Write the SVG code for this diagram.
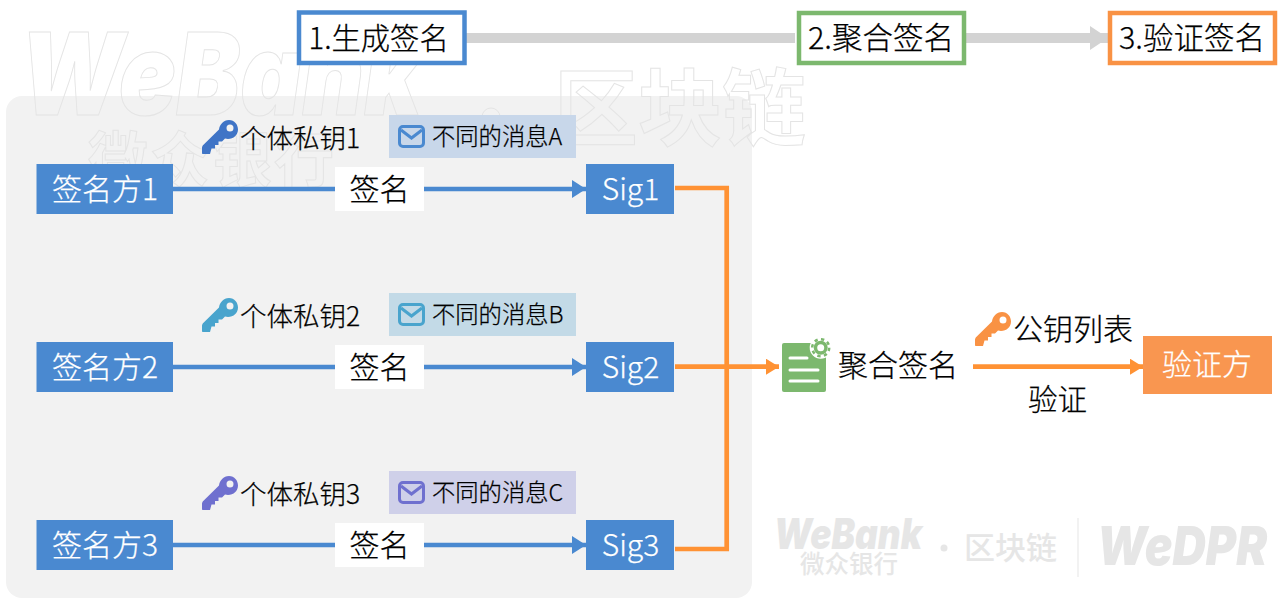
<svg xmlns="http://www.w3.org/2000/svg" width="1280" height="607" viewBox="0 0 1280 607">
<style>
text{font-family:"Noto Sans CJK SC","Noto Sans",sans-serif;fill:#000;font-weight:300;stroke:#000;stroke-width:.25px}
.t30{font-size:30px}
.t27{font-size:26.500px}
.t24{font-size:23.300px}
.s{font-size:30.500px}
.m{text-anchor:middle}
.blue{fill:#4a89d0}
text.lab{fill:#fff;stroke:#fff}
text.wm{fill:none;stroke:#e4e4e4;stroke-width:1px;font-weight:700}
circle.wm{fill:none;stroke:#e4e4e4;stroke-width:1px}
text.lg{fill:#e6e6e6;stroke:none;font-weight:500}
text.wmb{font-family:Inter,"Liberation Sans",sans-serif;font-weight:900;font-style:italic}
.cb{stroke:#4a89d0;stroke-width:4.500;fill:none}
.co{stroke:#ff9234;stroke-width:4.700;fill:none}
</style>
<defs>
<marker id="ab" markerUnits="userSpaceOnUse" markerWidth="14" markerHeight="18" refX="14" refY="9" orient="auto"><path d="M0 0L14 9L0 18Z" fill="#4a89d0"/></marker>
<marker id="ao" markerUnits="userSpaceOnUse" markerWidth="13" markerHeight="16" refX="13" refY="8" orient="auto"><path d="M0 0L13 8L0 16Z" fill="#ff9234"/></marker>
<marker id="ag" markerUnits="userSpaceOnUse" markerWidth="18" markerHeight="24" refX="18" refY="12" orient="auto"><path d="M0 0L18 12L0 24Z" fill="#d3d3d3"/></marker>
<path id="key" d="M0 26C0 24.500 0.800 23.500 1.500 22.800L17 7.500C17.500 2.800 21.500 -2 27 -2C32.500 -2 36 2.500 36 7.500C36 13 31.500 17 26 17C25 17 24 16.800 23 16.500L20 19.500L16.500 19.500L16.500 23L13 23L13 26.500L9.500 26.500L8 32L1 32C0.300 32 0 31.500 0 31ZM28 2.500A3.500 3.500 0 1 0 28 9.500A3.500 3.500 0 1 0 28 2.500Z" fill-rule="evenodd"/>
<g id="mail"><rect x="1.500" y="1.500" width="24" height="20" rx="3.500" fill="none" stroke-width="3"/><path d="M3 5L13.500 13L24 5" fill="none" stroke-width="3"/></g>
</defs>
<rect x="0" y="0" width="1280" height="607" fill="#fff"/>
<rect x="6" y="96" width="746" height="502" rx="16" fill="#f2f2f2"/>
<g id="watermark">
<text class="wm wmb" x="20" y="115" font-size="114" textLength="402" lengthAdjust="spacingAndGlyphs">WeBank</text>
<text class="wm" x="88" y="182" font-size="60" letter-spacing="2">微众银行</text>
<circle class="wm" cx="491" cy="117" r="9"/>
<text class="wm" x="554" y="139" font-size="84">区块链</text>
</g>
<g id="logo">
<text class="lg wmb" x="774" y="549" font-size="42" textLength="148" lengthAdjust="spacingAndGlyphs">WeBank</text>
<text class="lg" x="800" y="573" font-size="24.500">微众银行</text>
<circle cx="944" cy="548" r="3.500" fill="#e6e6e6"/>
<text class="lg" x="964" y="559" font-size="31">区块链</text>
<rect x="1077.500" y="518" width="1" height="59" fill="#e6e6e6"/>
<text class="lg wmb" x="1097" y="565" font-size="54" textLength="170" lengthAdjust="spacingAndGlyphs">WeDPR</text>
</g>
<g id="connectors">
<path d="M466 38H795" stroke="#d3d3d3" stroke-width="10" fill="none"/>
<path d="M966 38H1108" stroke="#d3d3d3" stroke-width="10" fill="none" marker-end="url(#ag)"/>
<path class="cb" d="M173 189H586" marker-end="url(#ab)"/>
<path class="cb" d="M173 367H586" marker-end="url(#ab)"/>
<path class="cb" d="M173 545H586" marker-end="url(#ab)"/>
<path class="co" d="M675 188H726.700V549H675"/>
<path class="co" d="M675 366.700H779" marker-end="url(#ao)"/>
<path class="co" d="M973 366.700H1143" marker-end="url(#ao)"/>
</g>
<g id="step1"><rect x="299" y="12.500" width="165.500" height="50.500" fill="#fff" stroke="#4a89d0" stroke-width="4.500"/><text x="308.500" y="49" style="font-size:29.300px">1.生成签名</text></g>
<g id="step2"><rect x="799" y="13" width="165" height="50" fill="#fff" stroke="#7cb86e" stroke-width="4.500"/><text class="s" x="808" y="49">2.聚合签名</text></g>
<g id="step3"><rect x="1110" y="13" width="165" height="50" fill="#fff" stroke="#f99244" stroke-width="4.500"/><text class="s" x="1119" y="49">3.验证签名</text></g>
<g id="signer1"><rect x="36.500" y="164" width="136.500" height="50" class="blue"/><text class="t30 lab m" x="105" y="200">签名方1</text></g>
<g id="signer2"><rect x="36.500" y="342" width="136.500" height="50" class="blue"/><text class="t30 lab m" x="105" y="378">签名方2</text></g>
<g id="signer3"><rect x="36.500" y="520" width="136.500" height="50" class="blue"/><text class="t30 lab m" x="105" y="556">签名方3</text></g>
<g id="sign1"><rect x="335" y="167" width="89" height="44" fill="#fff"/><text class="t30 m" x="379.500" y="200">签名</text></g>
<g id="sign2"><rect x="335" y="345" width="89" height="44" fill="#fff"/><text class="t30 m" x="379.500" y="378">签名</text></g>
<g id="sign3"><rect x="335" y="523" width="89" height="44" fill="#fff"/><text class="t30 m" x="379.500" y="556">签名</text></g>
<g id="sig1"><rect x="586" y="164" width="88" height="50" class="blue"/><text class="t30 lab m" x="630.500" y="200">Sig1</text></g>
<g id="sig2"><rect x="586" y="342" width="88" height="50" class="blue"/><text class="t30 lab m" x="630.500" y="378">Sig2</text></g>
<g id="sig3"><rect x="586" y="520" width="88" height="50" class="blue"/><text class="t30 lab m" x="630.500" y="556">Sig3</text></g>
<g id="key1"><use href="#key" x="202" y="122" fill="#3f74c6"/><text class="t27" x="240" y="148">个体私钥1</text></g>
<g id="key2"><use href="#key" x="202" y="300" fill="#49a4cd"/><text class="t27" x="240" y="326">个体私钥2</text></g>
<g id="key3"><use href="#key" x="202" y="478" fill="#6f70cf"/><text class="t27" x="240" y="504">个体私钥3</text></g>
<g id="msgA"><rect x="389" y="115" width="187" height="43" fill="#c8d7ea"/><use href="#mail" x="398" y="125" stroke="#4a89d0"/><text class="t24" x="432" y="145">不同的消息A</text></g>
<g id="msgB"><rect x="389" y="293" width="187" height="43" fill="#c3dae7"/><use href="#mail" x="398" y="303" stroke="#49a4cd"/><text class="t24" x="432" y="323">不同的消息B</text></g>
<g id="msgC"><rect x="389" y="471" width="187" height="43" fill="#cfd0e9"/><use href="#mail" x="398" y="481" stroke="#6f70cf"/><text class="t24" x="432" y="501">不同的消息C</text></g>
<g id="aggregate">
<rect x="782" y="343" width="44" height="49" rx="2" fill="#7cb86e"/>
<path d="M790 358H807M790 370H818M790 381H818" stroke="#fff" stroke-width="3" stroke-linecap="round" fill="none"/>
<circle cx="820.700" cy="347.700" r="11" fill="#fff"/>
<circle cx="820.700" cy="347.700" r="7" fill="#7cb86e"/>
<circle cx="820.700" cy="347.700" r="8.500" fill="none" stroke="#7cb86e" stroke-width="2.500" stroke-dasharray="3.340 3.340"/>
<circle cx="820.700" cy="347.700" r="3.500" fill="#fff"/>
<text class="t30" x="838" y="376">聚合签名</text>
</g>
<g id="pubkey"><use href="#key" x="975" y="314" fill="#f99244"/><text class="t30" x="1013" y="340">公钥列表</text></g>
<text class="t30" x="1028" y="410" id="verify" style="font-size:29.500px">验证</text>
<g id="verifier"><rect x="1143" y="336" width="129" height="58" fill="#f99650"/><text class="t30 lab m" x="1207" y="375">验证方</text></g>
</svg>
